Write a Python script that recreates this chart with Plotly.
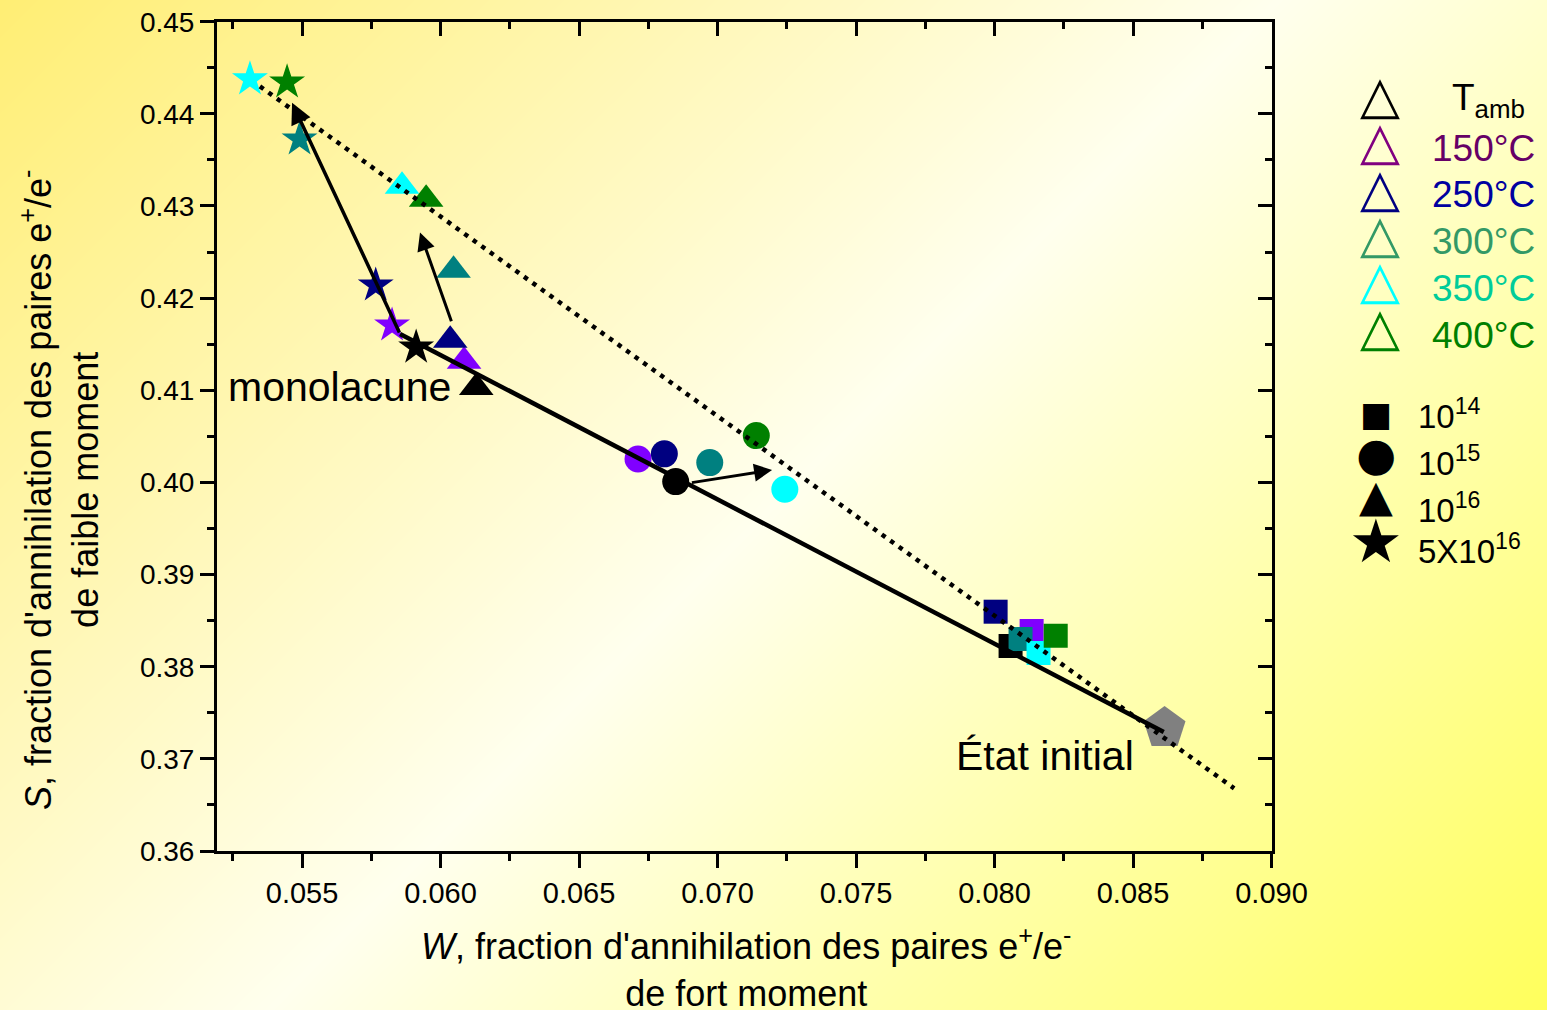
import numpy as np
import plotly.graph_objects as go

FIG_W, FIG_H = 1547, 1010
FONT = "Liberation Sans, Arial, sans-serif"
GLYPH_FONT = "DejaVu Sans"

# ---------------- data ----------------
temperature_labels = ["T<sub>amb</sub>", "150°C", "250°C", "300°C", "350°C", "400°C"]
point_colors = ["#000000", "#8000FF", "#000080", "#008080", "#00FFFF", "#008000"]
legend_outline_colors = ["#000000", "#800080", "#000080", "#339966", "#00FFFF", "#008000"]
legend_text_colors = ["#000000", "#660066", "#0000A0", "#339966", "#00CC99", "#008000"]

fluence_labels = ["10<sup>14</sup>", "10<sup>15</sup>", "10<sup>16</sup>", "5X10<sup>16</sup>"]
fluence_glyphs = ["■", "●", "▲", "★"]

# order in each list: T_amb, 150, 250, 300, 350, 400 °C
W_1e14 = [0.08058, 0.08134, 0.08004, 0.08094, 0.08159, 0.08221]
S_1e14 = [0.38225, 0.38388, 0.38597, 0.38300, 0.38149, 0.38337]
W_1e15 = [0.06849, 0.06713, 0.06808, 0.06972, 0.07243, 0.07140]
S_1e15 = [0.40009, 0.40255, 0.40310, 0.40215, 0.39926, 0.40508]
W_1e16 = [0.06129, 0.06085, 0.06035, 0.06047, 0.05861, 0.05948]
S_1e16 = [0.41031, 0.41314, 0.41542, 0.42302, 0.43214, 0.43073]
W_5e16 = [0.05912, 0.05825, 0.05766, 0.05491, 0.05312, 0.05446]
S_5e16 = [0.41466, 0.41705, 0.42139, 0.43724, 0.44376, 0.44343]

W_initial = [0.08614]
S_initial = [0.37334]

trend_W = [0.08611, 0.05854]
trend_S = [0.37291, 0.41612]
dotted_W = [0.05348, 0.08865]
dotted_S = [0.44298, 0.36680]

arrow_tail_W = [0.05854, 0.06041, 0.06902]
arrow_tail_S = [0.41612, 0.41732, 0.39995]
arrow_head_W = [0.05464, 0.05926, 0.07197]
arrow_head_S = [0.44121, 0.42712, 0.40136]

x_ticks = [0.055, 0.060, 0.065, 0.070, 0.075, 0.080, 0.085, 0.090]
y_ticks = [0.36, 0.37, 0.38, 0.39, 0.40, 0.41, 0.42, 0.43, 0.44, 0.45]


def px(x):
    return x / FIG_W


def py(y):
    return 1 - y / FIG_H


fig = go.Figure()

# ---- background gradient (full page) ----
gx = np.linspace(0, FIG_W, 40)
gy = np.linspace(0, FIG_H, 40)
GX, GY = np.meshgrid(gx, gy)
grad = (GX + (FIG_H - GY)) / (FIG_W + FIG_H)
fig.add_trace(go.Heatmap(
    x=gx, y=gy, z=grad, zmin=0, zmax=1, zsmooth="best", showscale=False,
    hoverinfo="skip",
    colorscale=[[0, "#FFEE74"], [0.5, "#FFFFEE"], [1, "#FFFF5C"]],
    xaxis="x", yaxis="y"))

# ---- data markers ----
series = [
    (W_1e14, S_1e14, "square", 24, "10^14"),
    (W_1e15, S_1e15, "circle", 27, "10^15"),
    (W_1e16, S_1e16, "triangle-up", 30, "10^16"),
    (W_5e16, S_5e16, "star", 27, "5x10^16"),
]
for W, S, sym, size, name in series:
    fig.add_trace(go.Scatter(
        x=W, y=S, mode="markers", name=name, showlegend=False,
        marker=dict(symbol=sym, size=size, color=point_colors, line=dict(width=0)),
        xaxis="x2", yaxis="y2"))

fig.add_trace(go.Scatter(
    x=W_initial, y=S_initial, mode="markers", showlegend=False, name="État initial",
    marker=dict(symbol="pentagon", size=44, color="#808080", line=dict(width=0)),
    xaxis="x2", yaxis="y2"))

# ---- lines ----
fig.add_trace(go.Scatter(
    x=dotted_W, y=dotted_S, mode="lines", showlegend=False,
    line=dict(color="black", width=4.5, dash="4.5px,6px"),
    xaxis="x2", yaxis="y2"))
fig.add_trace(go.Scatter(
    x=trend_W, y=trend_S, mode="lines", showlegend=False,
    line=dict(color="black", width=4.5),
    xaxis="x2", yaxis="y2"))

# empty trace for the mirrored (inside-tick) top/right axes
fig.add_trace(go.Scatter(x=[None], y=[None], showlegend=False, hoverinfo="skip",
                         xaxis="x3", yaxis="y3"))

annotations = []
arrow_widths = [3.5, 3, 3]
for tw, ts, hw, hs, aw in zip(arrow_tail_W, arrow_tail_S, arrow_head_W, arrow_head_S, arrow_widths):
    annotations.append(dict(
        x=hw, y=hs, ax=tw, ay=ts, xref="x2", yref="y2", axref="x2", ayref="y2",
        text="", showarrow=True, arrowhead=2, arrowsize=1.2, arrowwidth=aw,
        arrowcolor="black", standoff=0, startstandoff=0))

annotations.append(dict(x=0.05225, y=0.41037, xref="x2", yref="y2", text="monolacune",
                        showarrow=False, xanchor="left", yanchor="middle",
                        font=dict(family=FONT, size=41, color="black")))
annotations.append(dict(x=0.07852, y=0.37030, xref="x2", yref="y2", text="État initial",
                        showarrow=False, xanchor="left", yanchor="middle",
                        font=dict(family=FONT, size=41, color="black")))

# ---- axis titles ----
annotations.append(dict(
    x=px(746), y=py(967), xref="paper", yref="paper", showarrow=False,
    xanchor="center", yanchor="middle",
    text="<i>W</i>, fraction d'annihilation des paires e<sup>+</sup>/e<sup>-</sup><br>de fort moment",
    font=dict(family=FONT, size=36, color="black")))
annotations.append(dict(
    x=px(59), y=py(490), xref="paper", yref="paper", showarrow=False,
    xanchor="center", yanchor="middle", textangle=-90,
    text="<i>S</i>, fraction d'annihilation des paires e<sup>+</sup>/e<sup>-</sup><br>de faible moment",
    font=dict(family=FONT, size=36, color="black")))

# ---- custom legend ----
tri_y = [95, 141, 188, 234, 280, 327]
txt_y = [100, 148, 195, 241, 288, 335]
for i, lab in enumerate(temperature_labels):
    annotations.append(dict(
        x=px(1380), y=py(tri_y[i]), xref="paper", yref="paper", showarrow=False,
        xanchor="center", yanchor="middle", text="△",
        font=dict(family=GLYPH_FONT, size=52, color=legend_outline_colors[i], weight="bold")))
    annotations.append(dict(
        x=px(1450 if i == 0 else 1430), y=py(txt_y[i]), xref="paper", yref="paper",
        showarrow=False, xanchor="left", yanchor="middle", text=lab,
        font=dict(family=FONT, size=37, color=legend_text_colors[i])))

glyph_y = [414, 454, 495, 541]
glyph_sizes = [34, 46, 44, 60]
flu_y = [414, 461, 508, 549]
for i, lab in enumerate(fluence_labels):
    annotations.append(dict(
        x=px(1376), y=py(glyph_y[i]), xref="paper", yref="paper", showarrow=False,
        xanchor="center", yanchor="middle", text=fluence_glyphs[i],
        font=dict(family=GLYPH_FONT, size=glyph_sizes[i], color="black")))
    annotations.append(dict(
        x=px(1416), y=py(flu_y[i]), xref="paper", yref="paper", showarrow=False,
        xanchor="left", yanchor="middle", text=lab,
        font=dict(family=FONT, size=33, color="black")))

x_dom = [px(217), px(1271.5)]
y_dom = [py(851), py(21.7)]
x_range = [0.05193, 0.090]
y_range = [0.36, 0.45]

axis_common = dict(showgrid=False, zeroline=False, showline=True, linecolor="black",
                   linewidth=3, tickcolor="black", tickwidth=3, ticklen=14,
                   automargin=False)

fig.update_layout(
    template="none",
    width=FIG_W, height=FIG_H, autosize=False,
    margin=dict(l=0, r=0, t=0, b=0, pad=0, autoexpand=False),
    paper_bgcolor="#FFFFEE", plot_bgcolor="rgba(0,0,0,0)",
    showlegend=False,
    font=dict(family=FONT, color="black"),
    xaxis=dict(domain=[0, 1], range=[0, FIG_W], visible=False, fixedrange=True,
               automargin=False),
    yaxis=dict(domain=[0, 1], range=[0, FIG_H], visible=False, fixedrange=True,
               automargin=False),
    xaxis2=dict(domain=x_dom, anchor="y2", range=x_range, autorange=False,
                ticks="outside", tickmode="array", tickvals=x_ticks, tickformat=".3f",
                tickfont=dict(family=FONT, size=29, color="black"),
                minor=dict(dtick=0.0025, tick0=0.05, ticks="outside", ticklen=7,
                           tickwidth=3, tickcolor="black", showgrid=False),
                **axis_common),
    yaxis2=dict(domain=y_dom, anchor="x2", range=y_range, autorange=False,
                ticks="outside", tickmode="array", tickvals=y_ticks, tickformat=".2f",
                tickfont=dict(family=FONT, size=28, color="black"),
                minor=dict(dtick=0.005, tick0=0.36, ticks="outside", ticklen=7,
                           tickwidth=3, tickcolor="black", showgrid=False),
                **axis_common),
    xaxis3=dict(overlaying="x2", anchor="y2", side="top", range=x_range, autorange=False,
                ticks="inside", tickmode="array", tickvals=x_ticks, showticklabels=False,
                minor=dict(dtick=0.0025, tick0=0.05, ticks="inside", ticklen=7,
                           tickwidth=3, tickcolor="black", showgrid=False),
                **axis_common),
    yaxis3=dict(overlaying="y2", anchor="x2", side="right", range=y_range, autorange=False,
                ticks="inside", tickmode="array", tickvals=y_ticks, showticklabels=False,
                minor=dict(dtick=0.005, tick0=0.36, ticks="inside", ticklen=7,
                           tickwidth=3, tickcolor="black", showgrid=False),
                **axis_common),
    annotations=annotations,
)

fig.write_html("out.html")
